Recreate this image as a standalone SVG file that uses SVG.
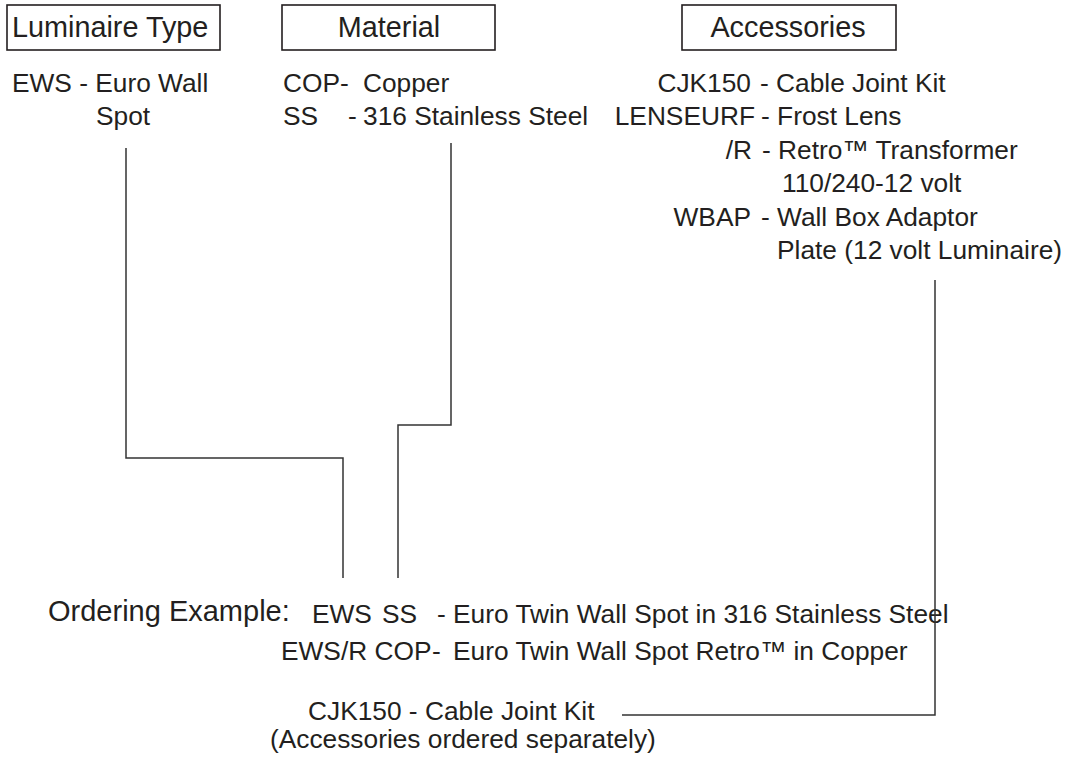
<svg xmlns="http://www.w3.org/2000/svg" width="1073" height="759" viewBox="0 0 1073 759">
<style>
text{font-family:"Liberation Sans",Arial,sans-serif;font-size:26.3px;fill:#231f20}
.lbl{font-size:28.8px}
.big{font-size:29px}
.mid{text-anchor:middle}
.end{text-anchor:end}
.box{fill:none;stroke:#231f20;stroke-width:1.6}
.conn{fill:none;stroke:#333;stroke-width:1.5}
</style>
<rect width="1073" height="759" fill="#fff"/>
<g id="luminaire">
<rect class="box" x="7" y="5" width="213" height="45"/>
<text class="lbl" x="12" y="37">Luminaire Type</text>
<text x="12" y="92">EWS - Euro Wall</text>
<text x="96" y="125">Spot</text>
</g>
<g id="material">
<rect class="box" x="282" y="5" width="213" height="45"/>
<text class="lbl mid" x="389" y="37">Material</text>
<text x="283" y="92">COP</text>
<text x="340" y="92">-</text>
<text x="363" y="92">Copper</text>
<text x="283" y="125">SS</text>
<text x="348" y="125">-</text>
<text x="363" y="125">316 Stainless Steel</text>
</g>
<g id="accessories">
<rect class="box" x="682" y="5" width="214" height="45"/>
<text class="lbl mid" x="788" y="37">Accessories</text>
<text class="end" x="751" y="92">CJK150</text>
<text x="760" y="92">- Cable Joint Kit</text>
<text class="end" x="755" y="125">LENSEURF</text>
<text x="761" y="125">- Frost Lens</text>
<text class="end" x="752" y="159">/R</text>
<text x="762" y="159">- Retro™ Transformer</text>
<text x="782" y="192">110/240-12 volt</text>
<text class="end" x="751" y="226">WBAP</text>
<text x="761" y="226">- Wall Box Adaptor</text>
<text x="777" y="259">Plate (12 volt Luminaire)</text>
</g>
<g id="ordering">
<text class="big" x="48" y="621">Ordering Example:</text>
<text x="312" y="623">EWS</text>
<text x="382" y="623">SS</text>
<text x="437" y="623">-</text>
<text x="453" y="623">Euro Twin Wall Spot in 316 Stainless Steel</text>
<text x="281" y="660">EWS/R COP</text>
<text x="432" y="660">-</text>
<text x="453" y="660">Euro Twin Wall Spot Retro™ in Copper</text>
<text x="308" y="720">CJK150 - Cable Joint Kit</text>
<text x="270" y="748">(Accessories ordered separately)</text>
</g>
<g id="connectors">
<polyline class="conn" points="126,148 126,458 343,458 343,578"/>
<polyline class="conn" points="451,143 451,425 398,425 398,578"/>
<polyline class="conn" points="935,280 935,715 622,715"/>
</g>
</svg>
